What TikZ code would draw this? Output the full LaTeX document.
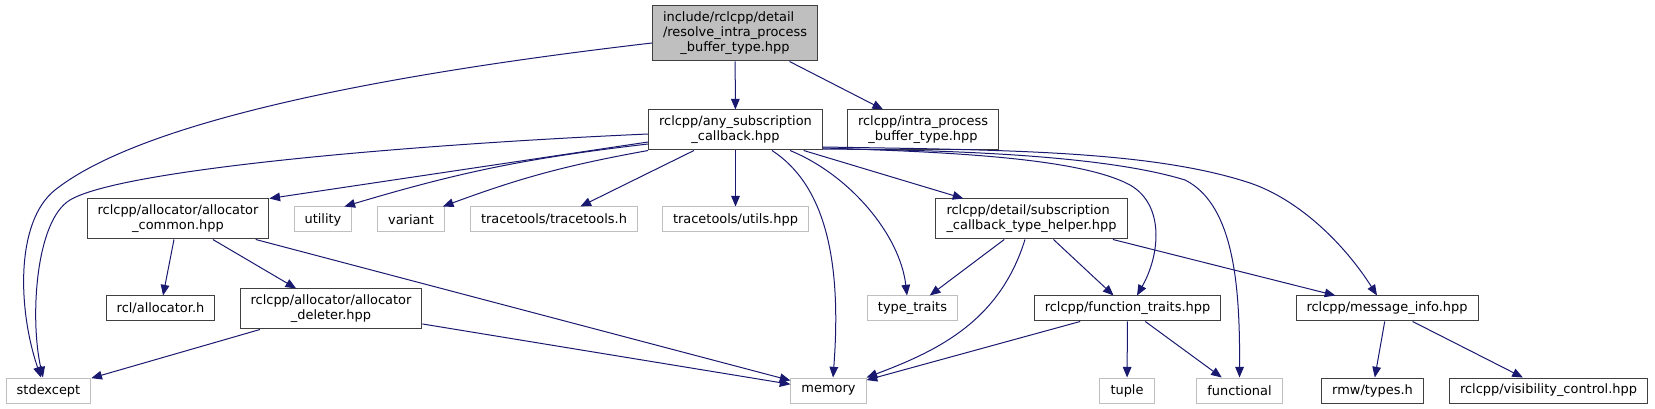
\documentclass[tikz,border=0pt]{standalone}
\usepackage{fontspec}
\setmainfont{DejaVu Sans}
\usetikzlibrary{arrows.meta,calc}
\definecolor{edgeblue}{HTML}{191970}
\definecolor{boxline}{HTML}{404040}
\definecolor{extline}{HTML}{BFBFBF}
\newcommand{\dxlines}[2]{\begin{tabular}{@{}l@{}}#1\\\multicolumn{1}{@{}c@{}}{#2}\end{tabular}}

\begin{document}
\begin{tikzpicture}[x=0.75pt,y=-0.75pt,
  file/.style={draw=boxline,line width=0.75pt,rectangle,inner xsep=7.9pt,inner ysep=1pt,minimum height=18.75pt,font=\fontsize{9.7}{11.25}\selectfont},
  ext/.style={file,draw=extline},
  two/.style={minimum height=30pt},
  dep/.style={draw=edgeblue,line width=0.75pt,-{Triangle[length=8pt,width=6.5pt]}}]
\useasboundingbox (0,0) rectangle (1655,409);
\node[file,fill=extline,minimum height=41.25pt] (root) at (735,33.5) {\dxlines{include/rclcpp/detail\\/resolve\_intra\_process}{\_buffer\_type.hpp}};
\node[file,two] (anysub) at (735.5,130) {\dxlines{rclcpp/any\_subscription}{\_callback.hpp}};
\node[file,two] (intra) at (923,130) {\dxlines{rclcpp/intra\_process}{\_buffer\_type.hpp}};
\node[file,two] (alloccommon) at (178,219) {\dxlines{rclcpp/allocator/allocator}{\_common.hpp}};
\node[ext] (utility) at (323,219.5) {utility};
\node[ext] (variant) at (411,219.5) {variant};
\node[ext] (tttracetools) at (554,219.5) {tracetools/tracetools.h};
\node[ext] (ttutils) at (735.5,219.5) {tracetools/utils.hpp};
\node[file,two] (subhelper) at (1031.5,219) {\dxlines{rclcpp/detail/subscription}{\_callback\_type\_helper.hpp}};
\node[file] (rclalloc) at (160.5,308.5) {rcl/allocator.h};
\node[file,two] (allocdeleter) at (331,309) {\dxlines{rclcpp/allocator/allocator}{\_deleter.hpp}};
\node[ext] (typetraits) at (912.5,308.5) {type\_traits};
\node[file] (functraits) at (1127.5,308.5) {rclcpp/function\_traits.hpp};
\node[file] (msginfo) at (1387,308.5) {rclcpp/message\_info.hpp};
\node[ext] (stdexcept) at (48.5,390.5) {stdexcept};
\node[ext] (memory) at (828.5,390.5) {memory};
\node[ext] (tuple) at (1127,390.5) {tuple};
\node[ext] (functional) at (1239.5,390.5) {functional};
\node[file] (rmwtypes) at (1372.5,390.5) {rmw/types.h};
\node[file] (visctl) at (1548.5,390.5) {rclcpp/visibility\_control.hpp};
\foreach \a/\b in {root/anysub,root/intra,anysub/tttracetools,anysub/ttutils,anysub/subhelper,
  alloccommon/rclalloc,alloccommon/allocdeleter,alloccommon/memory,allocdeleter/memory,allocdeleter/stdexcept,
  subhelper/typetraits,subhelper/functraits,subhelper/msginfo,functraits/memory,functraits/tuple,
  functraits/functional,msginfo/rmwtypes,msginfo/visctl} {
  \draw[dep] (\a) -- (\b);
}
\draw[dep] ($(root.west)+(0,9.5)$) .. controls (420,70) and (150,115) .. (55,190)
  .. controls (15,222) and (18,310) .. ($(stdexcept.north)+(-7.5,0)$);
\draw[dep] ($(anysub.west)+(0,4)$) .. controls (400,145) and (120,170) .. (70,200)
  .. controls (35,221) and (30,320) .. ($(stdexcept.north)+(-5.5,0)$);
\draw[dep] ($(anysub.west)+(0,12)$) -- (alloccommon.north east);
\draw[dep] ($(anysub.west)+(0,14)$) to[bend right=5] ($(utility.north east)+(-8,0)$);
\draw[dep] (anysub.south west) to[bend right=5] ($(variant.north east)+(-2,0)$);
\draw[dep] ($(anysub.south)+(36.5,0)$) .. controls (825,185) and (842,260) .. ($(memory.north)+(4.5,0)$);
\draw[dep] ($(anysub.south)+(54.5,0)$) .. controls (850,175) and (900,235) .. ($(typetraits.north)+(-5.5,0)$);
\draw[dep] ($(anysub.east)+(0,18)$) .. controls (950,152) and (1080,158) .. (1130,185)
  .. controls (1165,205) and (1160,255) .. ($(functraits.north)+(9.5,0)$);
\draw[dep] ($(anysub.east)+(0,19)$) .. controls (1000,150) and (1120,160) .. (1185,180)
  .. controls (1235,205) and (1240,290) .. (functional.north);
\draw[dep] ($(anysub.east)+(0,17)$) .. controls (1000,150) and (1150,150) .. (1250,183)
  .. controls (1300,200) and (1345,245) .. ($(msginfo.north)+(-10,0)$);
\draw[dep] ($(subhelper.south)+(-6.5,0)$) .. controls (1000,320) and (940,350) .. (memory.north east);
\end{tikzpicture}
\end{document}
